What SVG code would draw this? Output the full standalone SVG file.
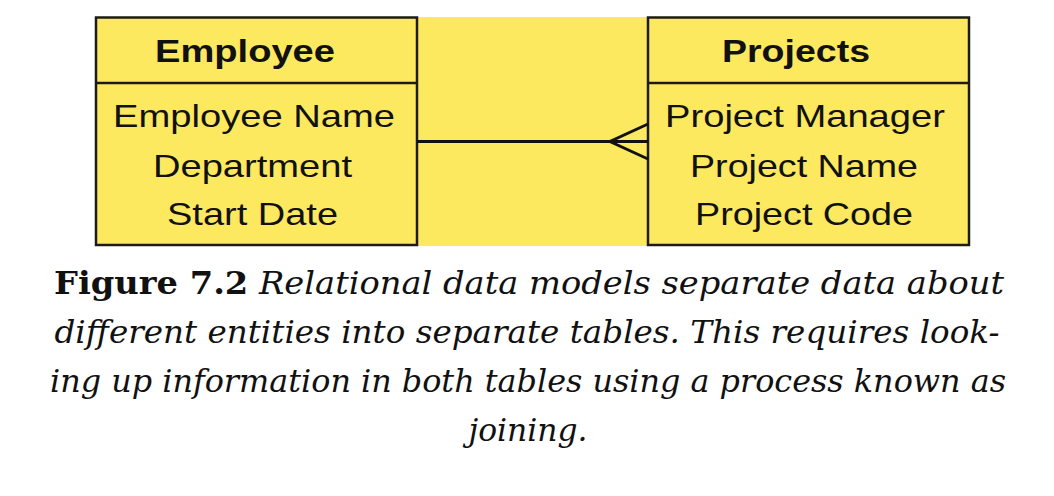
<svg xmlns="http://www.w3.org/2000/svg" width="1054" height="496" viewBox="0 0 1054 496">
<style>
.box{fill:#FDE95F;stroke:#1c1c14;stroke-width:2.5}
.div{stroke:#1c1c14;stroke-width:2.5}
.hdr{font-family:"Liberation Sans",Arial,sans-serif;font-weight:bold;font-size:32px;fill:#111;text-anchor:middle}
.fld{font-family:"Liberation Sans",Arial,sans-serif;font-size:32px;fill:#111;text-anchor:middle}
.conn{stroke:#111;stroke-width:3;fill:none}
.cap{font-family:"DejaVu Serif","Liberation Serif",serif;font-size:32px;fill:#111;text-anchor:middle;font-style:italic}
.capb{font-weight:bold;font-style:normal}
</style>
<rect x="417" y="17" width="231" height="229" fill="#FDE95F"/>
<g id="employee">
<rect class="box" x="96" y="17.5" width="321" height="227.5"/>
<line class="div" x1="96" y1="83" x2="417" y2="83"/>
<text class="hdr" x="245" y="62" textLength="180" lengthAdjust="spacingAndGlyphs">Employee</text>
<text class="fld" x="254" y="127" textLength="282" lengthAdjust="spacingAndGlyphs">Employee Name</text>
<text class="fld" x="252.5" y="177" textLength="199" lengthAdjust="spacingAndGlyphs">Department</text>
<text class="fld" x="252.5" y="225" textLength="171" lengthAdjust="spacingAndGlyphs">Start Date</text>
</g>
<g id="projects">
<rect class="box" x="648" y="17.5" width="321" height="227.5"/>
<line class="div" x1="648" y1="83" x2="969" y2="83"/>
<text class="hdr" x="796" y="62" textLength="148" lengthAdjust="spacingAndGlyphs">Projects</text>
<text class="fld" x="805" y="127" textLength="280" lengthAdjust="spacingAndGlyphs">Project Manager</text>
<text class="fld" x="804" y="177" textLength="228" lengthAdjust="spacingAndGlyphs">Project Name</text>
<text class="fld" x="804" y="225" textLength="218" lengthAdjust="spacingAndGlyphs">Project Code</text>
</g>
<g id="connectors">
<line class="conn" x1="417" y1="141.5" x2="648" y2="141.5"/>
<polyline class="conn" points="648,124 610,141.5 648,159"/>
</g>
<g id="caption">
<text class="cap" x="529" y="294" textLength="950" lengthAdjust="spacingAndGlyphs"><tspan class="capb">Figure 7.2</tspan> Relational data models separate data about</text>
<text class="cap" x="527" y="343" textLength="945" lengthAdjust="spacingAndGlyphs">different entities into separate tables. This requires look-</text>
<text class="cap" x="528" y="392" textLength="956" lengthAdjust="spacingAndGlyphs">ing up information in both tables using a process known as</text>
<text class="cap" x="528" y="441" textLength="119" lengthAdjust="spacingAndGlyphs">joining.</text>
</g>
</svg>
